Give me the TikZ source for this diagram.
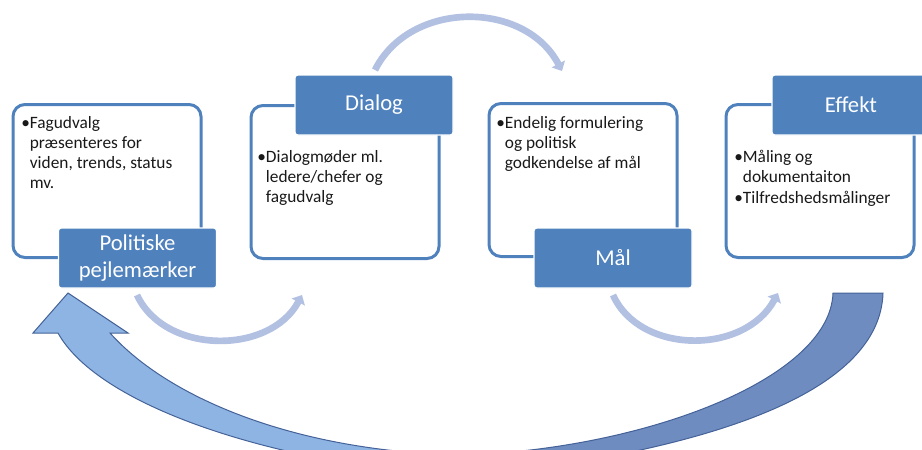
\documentclass[tikz,border=0pt]{standalone}
\usepackage{fontspec}
\setmainfont{Carlito}
\usetikzlibrary{arrows.meta}

\definecolor{accent}{RGB}{79,129,189}
\definecolor{arcblue}{RGB}{178,192,226}
\definecolor{lightarrow}{RGB}{142,180,227}
\definecolor{darkarrow}{RGB}{110,140,192}
\definecolor{arrowedge}{RGB}{68,98,152}

\newcommand{\bitem}[1]{\textbullet\begin{tabular}[t]{@{}l@{}}#1\end{tabular}}

\tikzset{
  txtbox/.style={draw=accent, line width=2.25pt, fill=white, rounded corners=9pt,
    minimum width=141pt, minimum height=114.75pt, inner sep=0pt},
  lblbox/.style={draw=white, line width=1pt, fill=accent, rounded corners=2pt,
    minimum width=118.5pt, minimum height=45pt, inner sep=0pt,
    text=white, align=center, font=\fontsize{17}{20}\selectfont},
  bodytxt/.style={anchor=north west, inner sep=0pt, align=left,
    text=black!90, font=\fontsize{13}{15}\selectfont},
  cyclearrow/.style={draw=arcblue, line width=5pt, -{Triangle[width=11pt,length=6pt]}},
}

\begin{document}
\begin{tikzpicture}[x=0.75pt,y=0.75pt,yscale=-1,xscale=1]
	\clip (0,0) rectangle (922,450);

	%Big return arrow, back part
	\draw [draw=arrowedge, fill=darkarrow, line width=0.75pt]
		(462,455) .. controls (640,450) and (830,380) .. (833,293) -- (883,293)
		.. controls (880,390) and (720,450) .. (462,478) -- cycle ;
	%Big return arrow, front part with head
	\draw [draw=arrowedge, fill=lightarrow, line width=0.75pt]
		(58,333) -- (33,333) -- (68,293) -- (128,333) -- (110,333)
		.. controls (170,400) and (300,452) .. (462,455) -- (462,478)
		.. controls (250,460) and (95,400) .. (58,333) -- cycle ;

	% Text boxes
	\node [txtbox] (polbox) at (107,181) {};
	\node [txtbox] (diabox) at (345,182) {};
	\node [txtbox] (maalbox) at (583,180) {};
	\node [txtbox] (effbox) at (820,181) {};

	% Text Node
	\node [bodytxt] (poltxt) at (21,114) {\bitem{Fagudvalg\\præsenteres for\\viden, trends, status\\mv.}};
	% Text Node
	\node [bodytxt] (diatxt) at (257,148) {\bitem{Dialogmøder ml.\\ledere/chefer og\\fagudvalg}};
	% Text Node
	\node [bodytxt] (maaltxt) at (496,114) {\bitem{Endelig formulering\\og politisk\\godkendelse af mål}};
	% Text Node
	\node [bodytxt] (efftxt) at (734,148) {\bitem{Måling og\\dokumentaiton}\\\bitem{Tilfredshedsmålinger}};

	% Label boxes
	\node [lblbox] (pol) at (137.5,258) {Politiske\\pejlemærker};
	\node [lblbox] (dia) at (374,105) {Dialog};
	\node [lblbox] (maal) at (613,258) {Mål};
	\node [lblbox] (eff) at (851,105) {Effekt};

	% Ends of the small arcs
	\coordinate (diaout) at (375,70);
	\coordinate (maalin) at (562,71);
	\coordinate (polout) at (137,295);
	\coordinate (diain) at (302,295);
	\coordinate (maalout) at (613,295);
	\coordinate (effin) at (778,293);

	%Curved Arrows
	\draw [cyclearrow] (diaout) .. controls (410,0) and (525,0) .. (maalin) ;
	\draw [cyclearrow] (polout) .. controls (165,355) and (270,355) .. (diain) ;
	\draw [cyclearrow] (maalout) .. controls (640,355) and (745,355) .. (effin) ;

\end{tikzpicture}
\end{document}
